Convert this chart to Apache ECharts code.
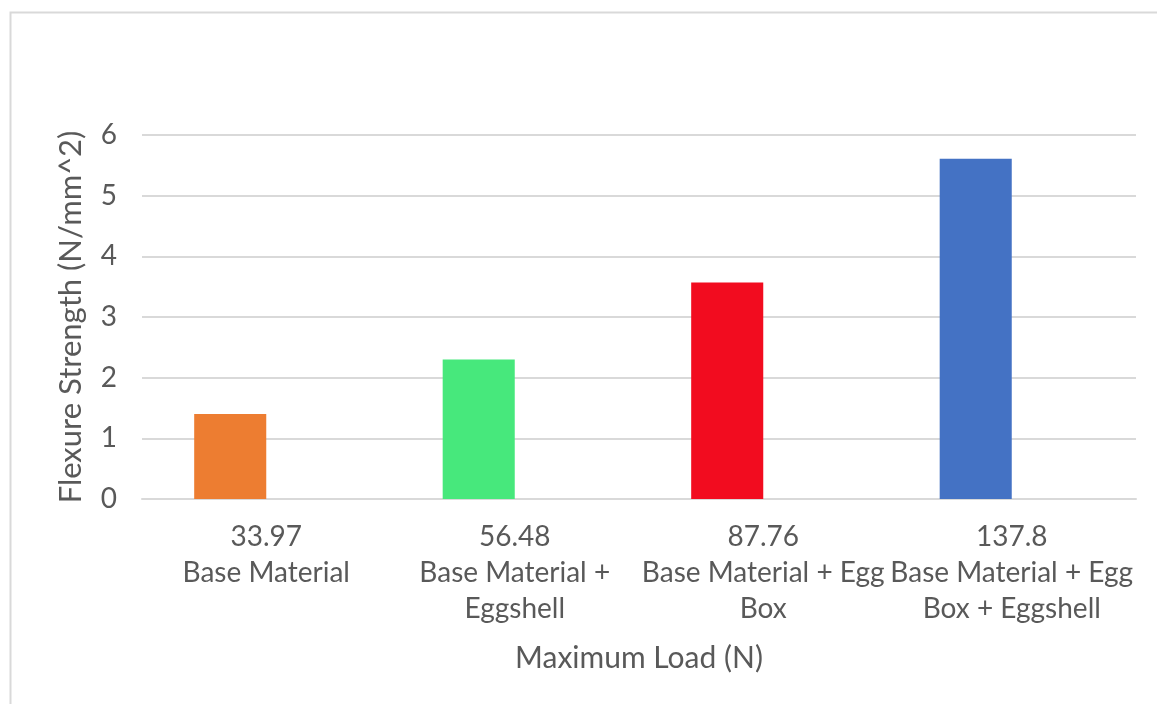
<!DOCTYPE html>
<html>
<head>
<meta charset="utf-8">
<title>Flexure Strength vs Maximum Load</title>
<script src="https://cdn.jsdelivr.net/npm/echarts@6/dist/echarts.min.js"></script>
<style>
  html, body { margin: 0; padding: 0; background: #ffffff; }
  #chart { width: 1157px; height: 704px; }
</style>
</head>
<body>
<div id="chart"></div>
<script>
// Maximum load (N) for each specimen, shown as the first label line
const maxLoads = ['33.97', '56.48', '87.76', '137.8'];
// Specimen composition, shown under the load value
const materials = [
  'Base Material',
  'Base Material +\nEggshell',
  'Base Material + Egg\nBox',
  'Base Material + Egg\nBox + Eggshell'
];
// Flexure strength (N/mm^2)
const flexureStrength = [1.40, 2.30, 3.57, 5.61];
// One colour per specimen bar
const barColors = ['#ED7D31', '#47E87C', '#F20C1F', '#4472C4'];
// Value axis ticks
const yTicks = [0, 1, 2, 3, 4, 5, 6];

const FONT = 'Lato, "Open Sans", sans-serif';
const TEXT = '#595959';
const GRID = '#d9d9d9';

const categories = maxLoads.map((v, i) => v + '\n' + materials[i]);

const chart = echarts.init(document.getElementById('chart'), null, { renderer: 'canvas' });

chart.setOption({
  backgroundColor: '#ffffff',
  animation: false,
  graphic: [{
    type: 'rect',
    shape: { x: 10.5, y: 12.5, width: 1200, height: 800 },
    style: { fill: 'none', stroke: GRID, lineWidth: 2 },
    silent: true
  }],
  grid: { left: 142, right: 21, top: 135, bottom: 205, containLabel: false },
  xAxis: {
    type: 'category',
    data: categories,
    name: 'Maximum Load (N)',
    nameLocation: 'middle',
    nameGap: 140,
    nameTextStyle: { color: TEXT, fontFamily: FONT, fontSize: 30, lineHeight: 38 },
    axisLine: { lineStyle: { color: GRID, width: 2 } },
    axisTick: { show: false },
    axisLabel: {
      color: TEXT, fontFamily: FONT, fontSize: 28, lineHeight: 36,
      margin: 20, interval: 0, align: 'center'
    }
  },
  yAxis: {
    type: 'value',
    min: yTicks[0],
    max: yTicks[yTicks.length - 1],
    interval: 1,
    name: 'Flexure Strength (N/mm^2)',
    nameLocation: 'middle',
    nameGap: 56,
    nameTextStyle: { color: TEXT, fontFamily: FONT, fontSize: 31 },
    axisLine: { show: false },
    axisTick: { show: false },
    axisLabel: { color: TEXT, fontFamily: FONT, fontSize: 28, margin: 25 },
    splitLine: { lineStyle: { color: GRID, width: 2 } }
  },
  series: [
    {
      name: 'Flexure Strength',
      type: 'bar',
      barGap: '0%',
      barCategoryGap: '42%',
      data: flexureStrength.map((v, i) => ({ value: v, itemStyle: { color: barColors[i] } }))
    },
    {
      // empty companion series keeps each bar in the left half of its slot
      name: 'spacer',
      type: 'bar',
      barGap: '0%',
      barCategoryGap: '42%',
      data: flexureStrength.map(() => '-')
    }
  ]
});
</script>
</body>
</html>
